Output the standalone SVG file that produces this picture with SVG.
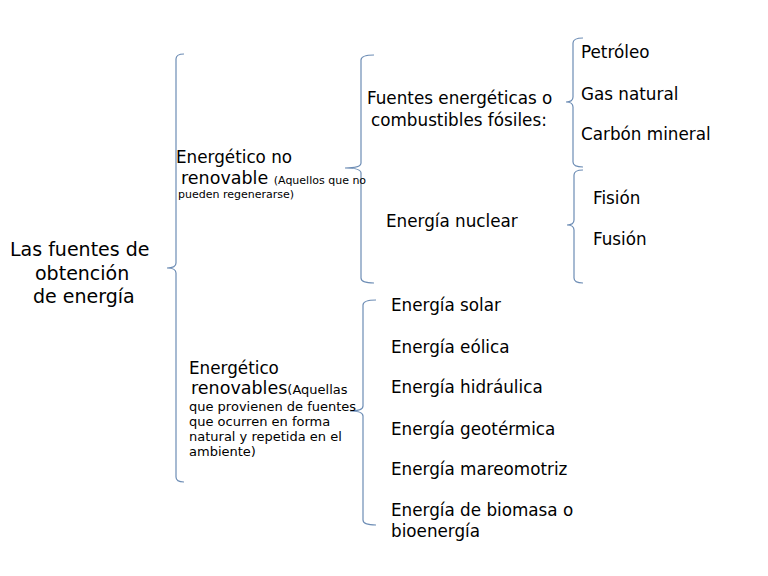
<svg xmlns="http://www.w3.org/2000/svg" width="768" height="576" viewBox="0 0 768 576">
<style>
text{font-family:"DejaVu Sans",sans-serif;fill:#000;font-size:16.8px}
.r{font-size:19px}
.s{font-size:11px}
.m{font-size:13px}
.b{fill:none;stroke:#6d8db5;stroke-width:1.2}
</style>
<rect width="768" height="576" fill="#fff"/>
<g id="connectors">
<path class="b" d="M184,54 Q176,54 176,59 L176,263 Q176,268 167,268 Q176,268 176,273 L176,477 Q176,482 184,482"/>
<path class="b" d="M374,55 Q361,55 361,60 L361,163 Q361,168 345,168 Q361,168 361,173 L361,278 Q361,283 374,283"/>
<path class="b" d="M376,300 Q363,300 363,305 L363,406 Q363,411 350,411 Q363,411 363,416 L363,520 Q363,525 376,525"/>
<path class="b" d="M583,38 Q573,38 573,43 L573,97 Q573,102 566,102 Q573,102 573,107 L573,162 Q573,167 583,167"/>
<path class="b" d="M583,170 Q574,170 574,175 L574,220 Q574,225 567,225 Q574,225 574,230 L574,278 Q574,283 583,283"/>
</g>
<g id="root"><text class="r" x="10" y="256">Las fuentes de</text><text class="r" x="35" y="280">obtención</text><text class="r" x="33" y="303">de energía</text></g>
<g id="noRenovable"><text x="176" y="163">Energético no</text><text x="181" y="184" style="font-size:17.5px">renovable <tspan class="s">(Aquellos que no</tspan></text><text x="178" y="198" class="s">pueden regenerarse)</text></g>
<g id="renovable"><text x="189" y="374">Energético</text><text x="191" y="394" style="font-size:17.5px">renovables<tspan class="m">(Aquellas</tspan></text><text x="189" y="411" class="m">que provienen de fuentes</text><text x="189" y="426" class="m">que ocurren en forma</text><text x="189" y="441" class="m"> natural y repetida en el</text><text x="189" y="456" class="m">ambiente)</text></g>
<g id="fosiles"><text x="367" y="104">Fuentes energéticas o</text><text x="371" y="126">combustibles fósiles:</text></g>
<g id="nuclear"><text x="386" y="227">Energía nuclear</text></g>
<g id="petroleo"><text x="581" y="58">Petróleo</text></g>
<g id="gas"><text x="581" y="100">Gas natural</text></g>
<g id="carbon"><text x="581" y="140">Carbón mineral</text></g>
<g id="fision"><text x="593" y="204">Fisión</text></g>
<g id="fusion"><text x="593" y="245">Fusión</text></g>
<g id="solar"><text x="391" y="311">Energía solar</text></g>
<g id="eolica"><text x="391" y="353">Energía eólica</text></g>
<g id="hidraulica"><text x="391" y="393">Energía hidráulica</text></g>
<g id="geotermica"><text x="391" y="435">Energía geotérmica</text></g>
<g id="mareomotriz"><text x="391" y="475">Energía mareomotriz</text></g>
<g id="biomasa"><text x="391" y="516">Energía de biomasa o</text><text x="391" y="537">bioenergía</text></g>
</svg>
